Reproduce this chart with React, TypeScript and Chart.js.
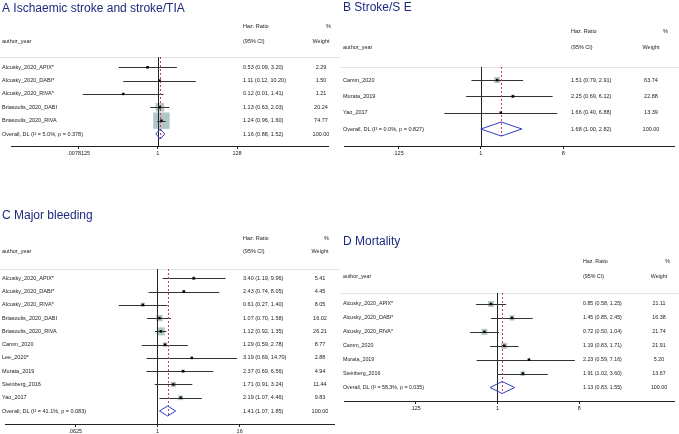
import React, { useEffect, useRef } from "react";
import { Chart, registerables } from "chart.js";
Chart.register(...registerables);

const FONT = '"Liberation Sans", Arial, Helvetica, sans-serif';
const TITLE_COLOR = "#1d2a80";
const TEXT_COLOR = "#1a1a1a";
const BOX_COLOR = "#b3c6c6";
const CI_COLOR = "#333333";
const DIAMOND_COLOR = "#2f3cc4";
const REF_COLOR = "#cc3d58";
const SEP_COLOR = "#dde4ea";

// ---------- Panel A: Ischaemic stroke and stroke/TIA ----------
const studiesA = ["Alcusky_2020_APIX*", "Alcusky_2020_DABI*", "Alcusky_2020_RIVA*", "Briasoulis_2020_DABI", "Briasoulis_2020_RIVA"];
const hrA = [0.53, 1.11, 0.12, 1.13, 1.24];
const loA = [0.09, 0.12, 0.01, 0.63, 0.96];
const hiA = [3.2, 10.2, 1.41, 2.03, 1.6];
const weightA = [2.29, 1.5, 1.21, 20.24, 74.77];
const overallA = [1.16, 0.88, 1.52];
const hetA = [5.0, 0.378];
const ticksA = [0.0078125, 1, 128];
const tickLabelsA = [".0078125", "1", "128"];

// ---------- Panel B: Stroke/S E ----------
const studiesB = ["Camm_2020", "Murata_2019", "Yao_2017"];
const hrB = [1.51, 2.25, 1.66];
const loB = [0.79, 0.69, 0.4];
const hiB = [2.91, 6.12, 6.88];
const weightB = [63.74, 22.88, 13.39];
const overallB = [1.68, 1.0, 2.82];
const hetB = [0.0, 0.827];
const ticksB = [0.125, 1, 8];
const tickLabelsB = [".125", "1", "8"];

// ---------- Panel C: Major bleeding ----------
const studiesC = ["Alcusky_2020_APIX*", "Alcusky_2020_DABI*", "Alcusky_2020_RIVA*", "Briasoulis_2020_DABI", "Briasoulis_2020_RIVA", "Camm_2020", "Lee_2020*", "Murata_2019", "Steinberg_2016", "Yao_2017"];
const hrC = [3.4, 2.43, 0.61, 1.07, 1.12, 1.29, 3.19, 2.37, 1.71, 2.19];
const loC = [1.19, 0.74, 0.27, 0.7, 0.92, 0.59, 0.69, 0.69, 0.91, 1.07];
const hiC = [9.96, 8.05, 1.4, 1.58, 1.35, 2.78, 14.7, 6.56, 3.24, 4.46];
const weightC = [5.41, 4.45, 8.05, 16.02, 26.21, 8.77, 2.88, 4.94, 11.44, 9.83];
const overallC = [1.41, 1.07, 1.85];
const hetC = [41.1, 0.083];
const ticksC = [0.0625, 1, 16];
const tickLabelsC = [".0625", "1", "16"];

// ---------- Panel D: Mortality ----------
const studiesD = ["Alcusky_2020_APIX*", "Alcusky_2020_DABI*", "Alcusky_2020_RIVA*", "Camm_2020", "Murata_2019", "Steinberg_2016"];
const hrD = [0.85, 1.45, 0.72, 1.19, 2.23, 1.91];
const loD = [0.58, 0.85, 0.5, 0.83, 0.59, 1.02];
const hiD = [1.25, 2.45, 1.04, 1.71, 7.16, 3.6];
const weightD = [21.11, 16.38, 21.74, 21.91, 5.2, 13.67];
const overallD = [1.13, 0.83, 1.55];
const hetD = [58.3, 0.035];
const ticksD = [0.125, 1, 8];
const tickLabelsD = [".125", "1", "8"];

type Panel = {
  title: string;
  studies: string[]; hr: number[]; lo: number[]; hi: number[]; weight: number[];
  overall: number[]; het: number[]; ticks: number[]; tickLabels: string[];
  left: number; top: number; W: number; H: number;
  sep: number; axis: number; yMin: number; yMax: number; xL2: [number, number];
  boxK: number; dh: number; titleY: number; titleX: number; labelX: number;
  hrX: number; h1: number; h2: number; pctX: number; wX: number; fs: number;
};

const panels: Panel[] = [
  {
    title: "A Ischaemic stroke and stroke/TIA",
    studies: studiesA, hr: hrA, lo: loA, hi: hiA, weight: weightA, overall: overallA, het: hetA, ticks: ticksA, tickLabels: tickLabelsA,
    left: 0, top: 0, W: 340, H: 162, sep: 57, axis: 146, yMin: -0.77, yMax: 5.9, xL2: [-12.93, 15.07],
    boxK: 1.9, dh: 10, titleY: 12, titleX: 2, labelX: 2, hrX: 243, h1: 26, h2: 41, pctX: 331, wX: 321, fs: 5.5,
  },
  {
    title: "B Stroke/S E",
    studies: studiesB, hr: hrB, lo: loB, hi: hiB, weight: weightB, overall: overallB, het: hetB, ticks: ticksB, tickLabels: tickLabelsB,
    left: 340, top: 0, W: 339, H: 162, sep: 67, axis: 146, yMin: -0.8, yMax: 4.04, xL2: [-4.97, 7.06],
    boxK: 0.75, dh: 14, titleY: 11, titleX: 3, labelX: 3, hrX: 231, h1: 31, h2: 47, pctX: 328, wX: 311, fs: 5.5,
  },
  {
    title: "C Major bleeding",
    studies: studiesC, hr: hrC, lo: loC, hi: hiC, weight: weightC, overall: overallC, het: hetC, ticks: ticksC, tickLabels: tickLabelsC,
    left: 0, top: 203, W: 340, H: 231, sep: 66, axis: 221, yMin: -0.7, yMax: 10.98, xL2: [-7.39, 8.61],
    boxK: 1.56, dh: 10, titleY: 16, titleX: 2, labelX: 2, hrX: 243, h1: 35, h2: 48, pctX: 329, wX: 320, fs: 5.5,
  },
  {
    title: "D Mortality",
    studies: studiesD, hr: hrD, lo: loD, hi: hiD, weight: weightD, overall: overallD, het: hetD, ticks: ticksD, tickLabels: tickLabelsD,
    left: 340, top: 225, W: 339, H: 209, sep: 68, axis: 176, yMin: -0.79, yMax: 6.97, xL2: [-5.61, 6.5],
    boxK: 1.28, dh: 12, titleY: 20, titleX: 3, labelX: 3, hrX: 243, h1: 37, h2: 52, pctX: 330, wX: 319, fs: 5.3,
  },
];

const fmtCI = (e: number, l: number, h: number) => `${e.toFixed(2)} (${l.toFixed(2)}, ${h.toFixed(2)})`;

function makePlugin(p: Panel) {
  const n = p.studies.length;
  return {
    id: "forest",
    afterDatasetDraw(chart: any, args: any) {
      if (args.index !== 1) return;
      const ctx = chart.ctx;
      const xs = chart.scales.x;
      const ys = chart.scales.y;
      const area = chart.chartArea;
      ctx.save();
      // separator line under header
      ctx.strokeStyle = SEP_COLOR;
      ctx.lineWidth = 1;
      ctx.beginPath();
      ctx.moveTo(0, Math.round(area.top) + 0.5);
      ctx.lineTo(p.W, Math.round(area.top) + 0.5);
      ctx.stroke();
      // null line at 1
      const x1 = Math.round(xs.getPixelForValue(1)) + 0.5;
      ctx.strokeStyle = "#222";
      ctx.beginPath();
      ctx.moveTo(x1, area.top);
      ctx.lineTo(x1, area.bottom);
      ctx.stroke();
      // CI lines
      ctx.strokeStyle = CI_COLOR;
      for (let i = 0; i < n; i++) {
        const y = Math.round(ys.getPixelForValue(i)) + 0.5;
        ctx.beginPath();
        ctx.moveTo(xs.getPixelForValue(p.lo[i]), y);
        ctx.lineTo(xs.getPixelForValue(p.hi[i]), y);
        ctx.stroke();
      }
      // overall reference dashed line
      const yo = ys.getPixelForValue(n);
      const xe = Math.round(xs.getPixelForValue(p.overall[0])) + 0.5;
      ctx.strokeStyle = REF_COLOR;
      ctx.setLineDash([2, 2]);
      ctx.beginPath();
      ctx.moveTo(xe, area.top);
      ctx.lineTo(xe, yo + p.dh / 2);
      ctx.stroke();
      ctx.restore();
    },
    afterDraw(chart: any) {
      const ctx = chart.ctx;
      const xs = chart.scales.x;
      const ys = chart.scales.y;
      ctx.save();
      // overall diamond
      const yo = ys.getPixelForValue(n);
      ctx.strokeStyle = DIAMOND_COLOR;
      ctx.lineWidth = 1;
      ctx.beginPath();
      ctx.moveTo(xs.getPixelForValue(p.overall[1]), yo);
      ctx.lineTo(xs.getPixelForValue(p.overall[0]), yo - p.dh / 2);
      ctx.lineTo(xs.getPixelForValue(p.overall[2]), yo);
      ctx.lineTo(xs.getPixelForValue(p.overall[0]), yo + p.dh / 2);
      ctx.closePath();
      ctx.stroke();
      // title
      ctx.fillStyle = TITLE_COLOR;
      ctx.font = `12px ${FONT}`;
      ctx.textAlign = "left";
      ctx.textBaseline = "alphabetic";
      ctx.fillText(p.title, p.titleX, p.titleY);
      // headers
      ctx.fillStyle = TEXT_COLOR;
      ctx.font = `${p.fs}px ${FONT}`;
      ctx.textBaseline = "middle";
      ctx.fillText("Haz. Ratio", p.hrX, p.h1);
      ctx.fillText("(95% CI)", p.hrX, p.h2);
      ctx.fillText("author_year", p.labelX, p.h2);
      ctx.textAlign = "right";
      ctx.fillText("%", p.pctX, p.h1);
      ctx.textAlign = "center";
      ctx.fillText("Weight", p.wX, p.h2);
      // rows
      for (let i = 0; i < n; i++) {
        const y = ys.getPixelForValue(i);
        ctx.textAlign = "left";
        ctx.fillText(p.studies[i], p.labelX, y);
        ctx.fillText(fmtCI(p.hr[i], p.lo[i], p.hi[i]), p.hrX, y);
        ctx.textAlign = "center";
        ctx.fillText(p.weight[i].toFixed(2), p.wX, y);
      }
      ctx.textAlign = "left";
      ctx.fillText(`Overall, DL (I\u00B2 = ${p.het[0].toFixed(1)}%, p = ${p.het[1].toFixed(3)})`, p.labelX, yo);
      ctx.fillText(fmtCI(p.overall[0], p.overall[1], p.overall[2]), p.hrX, yo);
      ctx.textAlign = "center";
      ctx.fillText((100).toFixed(2), p.wX, yo);
      ctx.restore();
    },
  };
}

function ForestPanel({ p }: { p: Panel }) {
  const ref = useRef<HTMLCanvasElement | null>(null);
  useEffect(() => {
    if (!ref.current) return;
    const pts = p.hr.map((v, i) => ({ x: v, y: i }));
    const chart = new Chart(ref.current, {
      type: "scatter",
      data: {
        datasets: [
          {
            data: pts,
            pointStyle: "rect",
            pointRadius: 1.7,
            backgroundColor: "#000",
            borderWidth: 0,
            pointBorderWidth: 0,
            clip: false,
          } as any,
          {
            data: pts,
            pointStyle: "rect",
            pointRadius: (c: any) => (p.boxK * Math.sqrt(p.weight[c.dataIndex] || 0)) / Math.SQRT2,
            backgroundColor: BOX_COLOR,
            borderWidth: 0,
            pointBorderWidth: 0,
            clip: false,
          } as any,
        ],
      },
      options: {
        responsive: false,
        animation: false,
        events: [],
        layout: { padding: { top: p.sep, bottom: p.H - 10 - p.axis, left: 0, right: 0 } },
        plugins: { legend: { display: false }, tooltip: { enabled: false }, title: { display: false } },
        scales: {
          x: {
            type: "logarithmic",
            min: Math.pow(2, p.xL2[0]),
            max: Math.pow(2, p.xL2[1]),
            afterBuildTicks: (s: any) => {
              s.ticks = p.ticks.map((v) => ({ value: v }));
            },
            afterFit: (s: any) => {
              s.height = 10;
            },
            ticks: {
              callback: (_v: any, i: number) => p.tickLabels[i],
              font: { family: FONT, size: p.fs },
              color: TEXT_COLOR,
              padding: 1,
              maxRotation: 0,
              autoSkip: false,
            },
            grid: { drawOnChartArea: false, drawTicks: true, tickLength: 3, color: "#222", lineWidth: 1 },
            border: { display: true, color: "#222", width: 1 },
          },
          y: { type: "linear", display: false, reverse: true, min: p.yMin, max: p.yMax },
        },
      } as any,
      plugins: [makePlugin(p)],
    });
    return () => chart.destroy();
  }, [p]);
  return (
    <canvas
      ref={ref}
      width={p.W}
      height={p.H}
      style={{ position: "absolute", left: p.left, top: p.top, width: p.W, height: p.H }}
    />
  );
}

export default function App() {
  return (
    <div style={{ position: "fixed", left: 0, top: 0, width: 679, height: 434, background: "#fff", overflow: "hidden" }}>
      {panels.map((p, i) => (
        <ForestPanel key={i} p={p} />
      ))}
    </div>
  );
}
